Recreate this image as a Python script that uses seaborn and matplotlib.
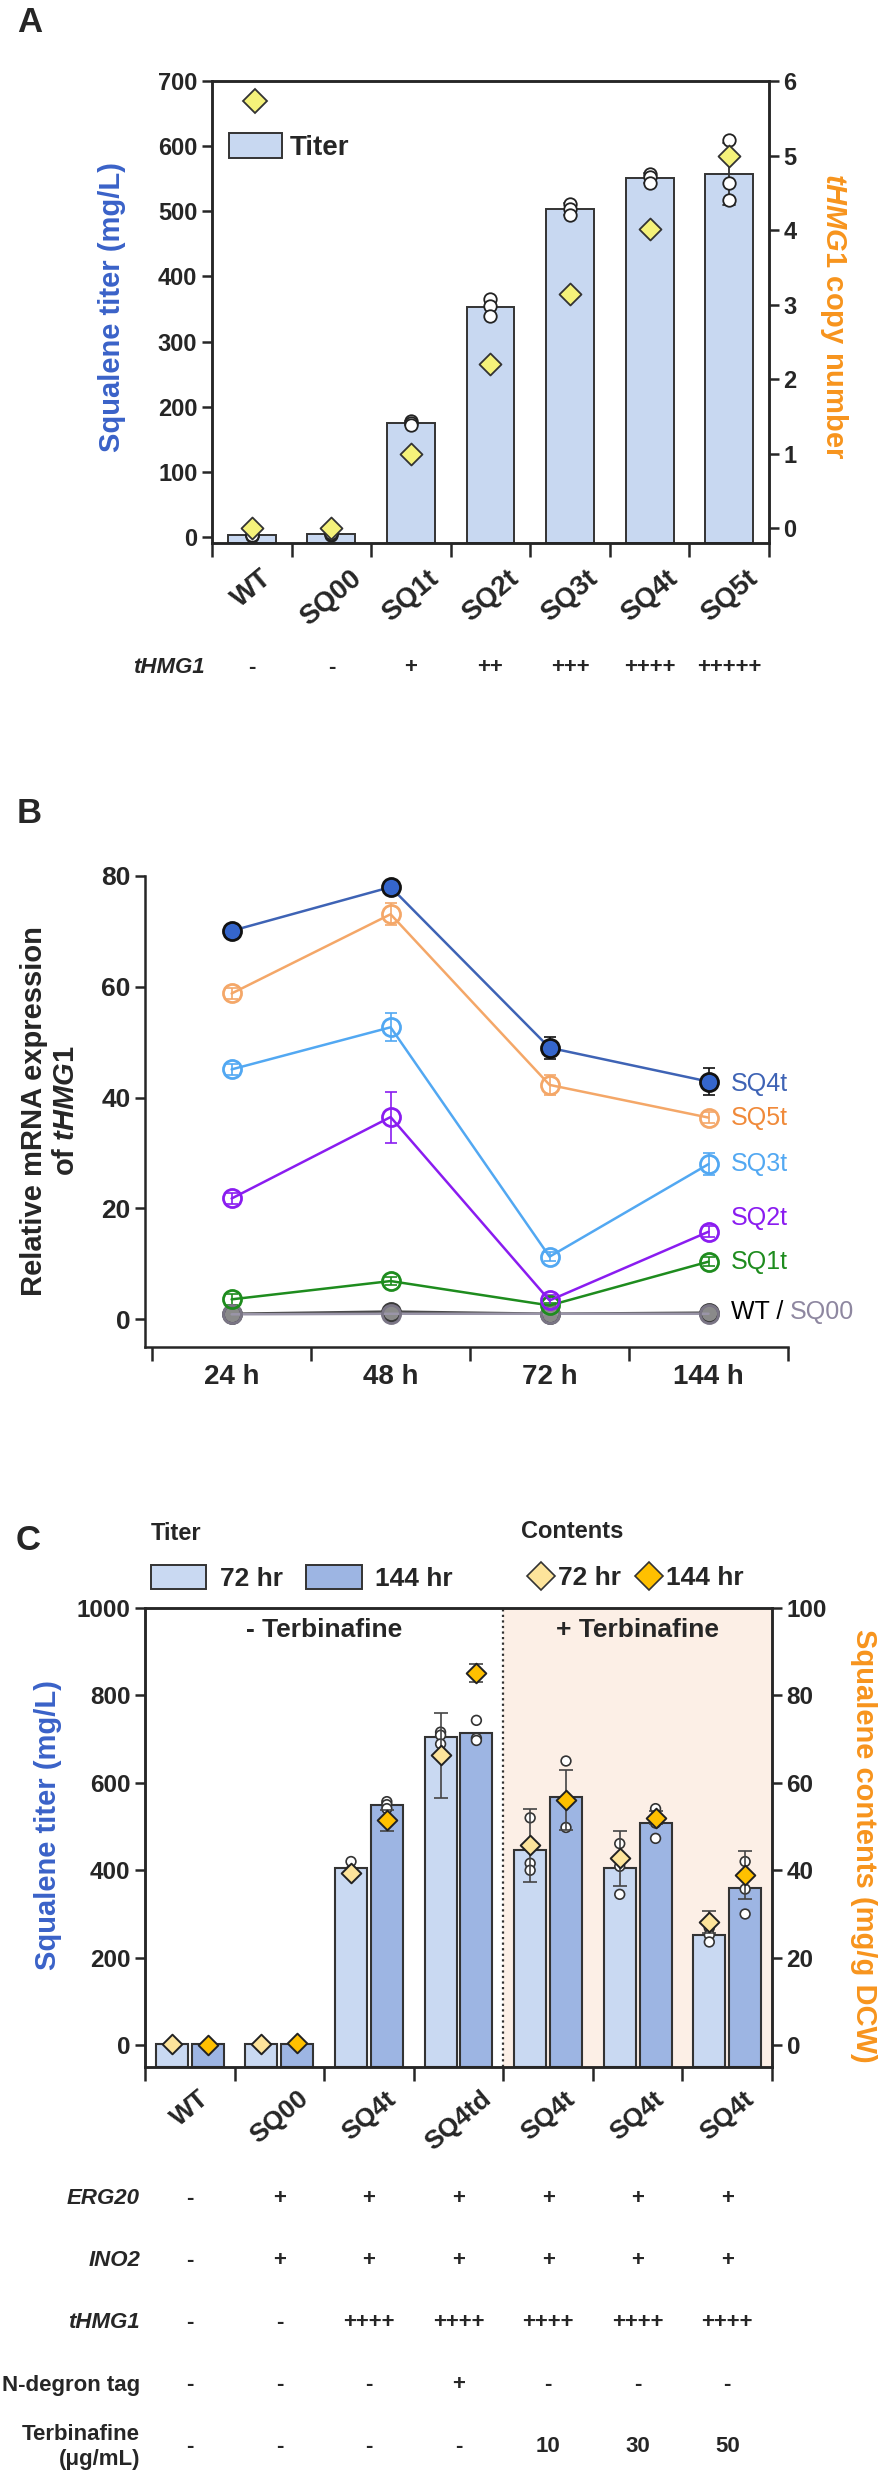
import numpy as np
import pandas as pd
import matplotlib
matplotlib.use('Agg')
import matplotlib.pyplot as plt
import seaborn as sns
from matplotlib.patches import Patch
from matplotlib.lines import Line2D
from matplotlib.transforms import blended_transform_factory

# ---------------- data ----------------
# panel A
strains_a = ['WT', 'SQ00', 'SQ1t', 'SQ2t', 'SQ3t', 'SQ4t', 'SQ5t']
titer_reps_a = [[2, 3, 4], [4, 5, 6], [178, 175, 172], [366, 354, 339],
                [512, 504, 494], [558, 553, 543], [610, 543, 518]]
copy_number_a = [0.0, 0.0, 1.0, 2.2, 3.14, 4.02, 4.99]
thmg1_a = ['-', '-', '+', '++', '+++', '++++', '+++++']

# panel B
times_b = ['24 h', '48 h', '72 h', '144 h']
sq4t_b = [70.1, 78.0, 49.0, 42.9]
sq4t_sd = [0.6, 0.6, 2.0, 2.5]
sq5t_b = [58.8, 73.1, 42.3, 36.4]
sq5t_sd = [1.0, 2.0, 1.8, 1.0]
sq3t_b = [45.1, 52.7, 11.3, 28.0]
sq3t_sd = [1.0, 2.5, 0.8, 2.0]
sq2t_b = [21.8, 36.5, 3.4, 15.8]
sq2t_sd = [1.0, 4.6, 1.0, 1.0]
sq1t_b = [3.6, 6.9, 2.5, 10.4]
sq1t_sd = [1.0, 0.8, 0.5, 0.8]
wt_b = [1.0, 1.4, 1.0, 1.2]
wt_sd = [0.6, 0.8, 0.6, 0.6]
sq00_b = [0.9, 1.0, 1.0, 1.0]
sq00_sd = [0.5, 0.5, 0.5, 0.5]

# panel C
groups_c = ['WT', 'SQ00', 'SQ4t', 'SQ4td', 'SQ4t_10', 'SQ4t_30', 'SQ4t_50']
labels_c = ['WT', 'SQ00', 'SQ4t', 'SQ4td', 'SQ4t', 'SQ4t', 'SQ4t']
times_c = ['72 hr', '144 hr']
titer_72_reps = [[1, 2, 3], [1, 2, 3], [420, 400, 395], [716, 709, 689],
                 [520, 416, 400], [461, 409, 345], [268, 252, 236]]
titer_144_reps = [[1, 2, 3], [2, 3, 4], [557, 550, 541], [743, 702, 697],
                  [650, 556, 498], [541, 508, 473], [420, 357, 300]]
contents_72 = [0.2, 0.3, 39.3, 66.3, 45.7, 42.8, 28.2]
contents_72_sd = [0.4, 0.4, 0.5, 9.7, 8.3, 6.3, 2.5]
contents_144 = [0.1, 0.4, 51.4, 85.2, 56.1, 52.0, 38.9]
contents_144_sd = [0.4, 0.4, 2.4, 2.1, 6.8, 1.5, 5.5]
erg20_c = ['-', '+', '+', '+', '+', '+', '+']
ino2_c = ['-', '+', '+', '+', '+', '+', '+']
thmg1_c = ['-', '-', '++++', '++++', '++++', '++++', '++++']
ndegron_c = ['-', '-', '-', '+', '-', '-', '-']
terbinafine_c = ['-', '-', '-', '-', '10', '30', '50']

# ---------------- style ----------------
sns.set_style('ticks')
plt.rcParams['font.family'] = ['Liberation Sans', 'DejaVu Sans']
plt.rcParams['font.weight'] = 'bold'
plt.rcParams['axes.linewidth'] = 1.8
plt.rcParams['mathtext.fontset'] = 'custom'
plt.rcParams['mathtext.it'] = 'Liberation Sans:italic:bold'
plt.rcParams['mathtext.rm'] = 'Liberation Sans:bold'

BLUE = '#3a62c8'
ORANGE = '#f7941d'
EDGE = '#333333'

W, H = 879, 2480
fig = plt.figure(figsize=(W / 100, H / 100), dpi=100)


def px_axes(l, t, r, b):
    return fig.add_axes([l / W, 1 - b / H, (r - l) / W, (b - t) / H])


def ftext(x, y, s, **kw):
    return fig.text(x / W, 1 - y / H, s, **kw)


def stretch_bars(ax, ymin):
    # bars start at the bottom of the axis (GraphPad style)
    for p in ax.patches:
        top = p.get_y() + p.get_height()
        p.set_y(ymin)
        p.set_height(top - ymin)


def cat_ticks(ax, n, labels, rot, size, pad):
    ax.set_xticks(np.arange(-0.5, n, 1))
    ax.set_xticklabels([''] * (n + 1))
    ax.set_xticks(np.arange(n), minor=True)
    ax.set_xticklabels(labels, minor=True, rotation=rot, ha='center', va='top',
                       fontsize=size, fontweight='bold')
    ax.tick_params(axis='x', which='major', length=10, width=1.8, direction='out')
    ax.tick_params(axis='x', which='minor', length=0, pad=pad)


# ================= panel A =================
ftext(30, 22, 'A', fontsize=25, fontweight='bold', ha='center', va='center')
axa = px_axes(212, 81, 769, 543)
df_a = pd.DataFrame({'strain': np.repeat(strains_a, 3),
                     'titer': np.concatenate(titer_reps_a)})
sns.barplot(data=df_a, x='strain', y='titer', order=strains_a, errorbar='sd',
            color='#c8d8f1', saturation=1, edgecolor=EDGE, linewidth=1.4,
            width=0.6, capsize=0.15, err_kws={'color': EDGE, 'linewidth': 1.3},
            ax=axa)
sns.stripplot(data=df_a, x='strain', y='titer', order=strains_a, jitter=False,
              color='white', edgecolor='#222222', linewidth=1.3, size=9, ax=axa)
ymin_a = -9
axa.set_ylim(ymin_a, 700)
stretch_bars(axa, ymin_a)
axa.set_xlim(-0.5, 6.5)
axa.set_yticks(range(0, 701, 100))
axa.tick_params(axis='y', length=7, width=1.8, labelsize=17)
cat_ticks(axa, 7, strains_a, 40, 20, 16)
axa.set_xlabel('')
axa.set_ylabel('')
for s in axa.spines.values():
    s.set_linewidth(1.8)

axa2 = axa.twinx()
sns.scatterplot(x=np.arange(len(strains_a)), y=copy_number_a, marker='D', s=125,
                color='#f5f27a', edgecolor=EDGE, linewidth=1.3, zorder=5,
                clip_on=False, ax=axa2)
axa2.set_ylim(-0.2, 6)
axa2.set_yticks(range(0, 7))
axa2.tick_params(axis='y', length=7, width=1.8, labelsize=17)
axa2.set_xlim(-0.5, 6.5)
for s in axa2.spines.values():
    s.set_linewidth(1.8)

axa.legend(handles=[Line2D([], [], marker='D', ls='none', ms=12, mfc='#f5f27a', mec=EDGE, mew=1.3),
                    Patch(facecolor='#c8d8f1', edgecolor=EDGE, linewidth=1.4)],
           labels=[' ', 'Titer'], loc='upper left', bbox_to_anchor=(229 / W, 1 - 90 / H),
           bbox_transform=fig.transFigure, frameon=False, fontsize=20,
           handlelength=1.9, handleheight=1.0, handletextpad=0.3, labelspacing=0.55,
           borderpad=0, borderaxespad=0)

ftext(112, 307, 'Squalene titer (mg/L)', rotation=90, ha='center', va='center',
      fontsize=21, color=BLUE)
ftext(834, 316, r'$\it{tHMG1}$ copy number', rotation=-90, ha='center', va='center',
      fontsize=21, color=ORANGE)

ta = blended_transform_factory(axa.transData, fig.transFigure)
ftext(205, 667, 'tHMG1', ha='right', va='center', fontsize=16, fontstyle='italic')
for i, v in enumerate(thmg1_a):
    axa.text(i, 1 - 667 / H, v, transform=ta, ha='center', va='center', fontsize=16)

# ================= panel B =================
ftext(29, 813, 'B', fontsize=25, fontweight='bold', ha='center', va='center')
axb = px_axes(145, 876, 788, 1347)
xb = np.arange(len(times_b))
series_b = [
    (wt_b, wt_sd, '#4a4a4a', '#8a8a8a', '#3a3a3a'),
    (sq00_b, sq00_sd, '#9a95a8', 'none', '#7a7585'),
    (sq1t_b, sq1t_sd, '#1e8c1e', 'none', '#1e8c1e'),
    (sq2t_b, sq2t_sd, '#8a1cf0', 'none', '#8a1cf0'),
    (sq3t_b, sq3t_sd, '#52a8f2', 'none', '#52a8f2'),
    (sq5t_b, sq5t_sd, '#f4a768', 'none', '#f4a768'),
    (sq4t_b, sq4t_sd, '#3e63b5', '#3566cc', '#111111'),
]
for vals, sd, lc, fc, ec in series_b:
    axb.errorbar(xb, vals, yerr=sd, fmt='none', ecolor=ec, elinewidth=1.2,
                 capsize=4, capthick=1.2, clip_on=False, zorder=3)
    sns.lineplot(x=xb, y=vals, color=lc, linewidth=1.8, marker='o', markersize=13,
                 markerfacecolor=fc, markeredgecolor=ec, markeredgewidth=2.0,
                 clip_on=False, zorder=4, ax=axb)
axb.set_xlim(-0.545, 3.5)
axb.set_ylim(-5, 80)
axb.set_yticks(range(0, 81, 20))
axb.tick_params(axis='y', length=7, width=1.8, labelsize=19)
cat_ticks(axb, 4, times_b, 0, 20, 12)
sns.despine(ax=axb)
for s in axb.spines.values():
    s.set_linewidth(1.8)

end_labels = [('SQ4t', 42.5, '#3e63b5'), ('SQ5t', 36.4, '#f08a3a'),
              ('SQ3t', 28.0, '#52a8f2'), ('SQ2t', 18.3, '#8a1cf0'),
              ('SQ1t', 10.4, '#1e8c1e')]
for name, yv, col in end_labels:
    axb.text(3.14, yv, name, color=col, fontsize=18, fontweight='normal',
             ha='left', va='center', clip_on=False)
t_wt = axb.text(3.14, 1.3, 'WT / ', color='black', fontsize=18, fontweight='normal',
                ha='left', va='center', clip_on=False)
axb.annotate('SQ00', xy=(1, 0), xycoords=t_wt, ha='left', va='bottom',
             color='#8e87a0', fontsize=18, fontweight='normal')

ftext(50, 1111, 'Relative mRNA expression\nof $\\it{tHMG1}$', rotation=90,
      ha='center', va='center', fontsize=21, linespacing=1.15)

# ================= panel C =================
ftext(28, 1540, 'C', fontsize=25, fontweight='bold', ha='center', va='center')
axc = px_axes(145, 1608, 772, 2067)
df_c = pd.DataFrame({
    'group': np.concatenate([np.repeat(groups_c, 3), np.repeat(groups_c, 3)]),
    'time': ['72 hr'] * 21 + ['144 hr'] * 21,
    'titer': np.concatenate([np.concatenate(titer_72_reps), np.concatenate(titer_144_reps)]),
})
pal_bars = ['#c9d9f2', '#9db5e3']
axc.axvspan(3.5, 6.5, color='#fcefe6', zorder=0, lw=0)
sns.barplot(data=df_c, x='group', y='titer', hue='time', order=groups_c,
            hue_order=times_c, palette=pal_bars, errorbar=None, width=0.8, gap=0.11,
            saturation=1, edgecolor=EDGE, linewidth=1.5, legend=False, ax=axc)
sns.stripplot(data=df_c, x='group', y='titer', hue='time', order=groups_c,
              hue_order=times_c, palette=['white', 'white'], dodge=True, jitter=False,
              edgecolor='#333333', linewidth=1.2, size=7, legend=False, ax=axc)
ymin_c = -50
axc.set_ylim(ymin_c, 1000)
stretch_bars(axc, ymin_c)
axc.set_xlim(-0.5, 6.5)
axc.axvline(3.5, color='#333333', ls=(0, (1, 1.5)), lw=1.6, zorder=1)
axc.set_yticks(range(0, 1001, 200))
axc.tick_params(axis='y', length=7, width=1.8, labelsize=17.5)
cat_ticks(axc, 7, labels_c, 40, 19, 14)
axc.set_xlabel('')
axc.set_ylabel('')
axc.text(1.5, 950, '- Terbinafine', ha='center', va='center', fontsize=19)
axc.text(5.0, 950, '+ Terbinafine', ha='center', va='center', fontsize=19)

axc2 = axc.twinx()
pos = np.arange(len(groups_c))
for off, mean, sd, fc in [(-0.2, contents_72, contents_72_sd, '#fde49b'),
                          (0.2, contents_144, contents_144_sd, '#ffc000')]:
    axc2.errorbar(pos + off, mean, yerr=sd, fmt='none', ecolor='#444444',
                  elinewidth=1.2, capsize=5, capthick=1.2, zorder=4)
    sns.scatterplot(x=pos + off, y=mean, marker='D', s=100, color=fc,
                    edgecolor='#222222', linewidth=1.4, zorder=5, ax=axc2)
axc2.set_ylim(ymin_c / 10, 100)
axc2.set_yticks(range(0, 101, 20))
axc2.tick_params(axis='y', length=7, width=1.8, labelsize=17.5)
axc2.set_xlim(-0.5, 6.5)
for s in list(axc.spines.values()) + list(axc2.spines.values()):
    s.set_linewidth(1.8)

ftext(48, 1825, 'Squalene titer (mg/L)', rotation=90, ha='center', va='center',
      fontsize=21, color=BLUE)
ftext(864, 1846, 'Squalene contents (mg/g DCW)', rotation=-90, ha='center',
      va='center', fontsize=21, color=ORANGE)

# legends
ftext(151, 1533, 'Titer', ha='left', va='center', fontsize=17)
ftext(521, 1531, 'Contents', ha='left', va='center', fontsize=17)
fig.legend(handles=[Patch(facecolor=pal_bars[0], edgecolor=EDGE, linewidth=1.4),
                    Patch(facecolor=pal_bars[1], edgecolor=EDGE, linewidth=1.4)],
           labels=times_c, ncol=2, loc='center left',
           bbox_to_anchor=(151 / W, 1 - 1578 / H), frameon=False, fontsize=19,
           handlelength=2.1, handleheight=1.0, handletextpad=0.5, columnspacing=0.9,
           borderpad=0, borderaxespad=0)
fig.legend(handles=[Line2D([], [], marker='D', ls='none', ms=14, mfc='#fde49b', mec=EDGE, mew=1.2),
                    Line2D([], [], marker='D', ls='none', ms=14, mfc='#ffc000', mec=EDGE, mew=1.2)],
           labels=times_c, ncol=2, loc='center left',
           bbox_to_anchor=(529 / W, 1 - 1578 / H), frameon=False, fontsize=19,
           handlelength=0.9, handletextpad=0.2, columnspacing=0.6,
           borderpad=0, borderaxespad=0)

# genotype table
tc = blended_transform_factory(axc.transData, fig.transFigure)
rows_c = [('ERG20', erg20_c, 2199, 'italic'), ('INO2', ino2_c, 2261, 'italic'),
          ('tHMG1', thmg1_c, 2322, 'italic'), ('N-degron tag', ndegron_c, 2385, 'normal'),
          ('Terbinafine\n(\u03bcg/mL)', terbinafine_c, 2447, 'normal')]
for name, vals, y, style in rows_c:
    ftext(140, y, name, ha='right', va='center', fontsize=16, fontstyle=style,
          linespacing=1.25)
    for i, v in enumerate(vals):
        axc.text(i, 1 - y / H, v, transform=tc, ha='center', va='center', fontsize=16)

fig.savefig('out.png', dpi=100)
